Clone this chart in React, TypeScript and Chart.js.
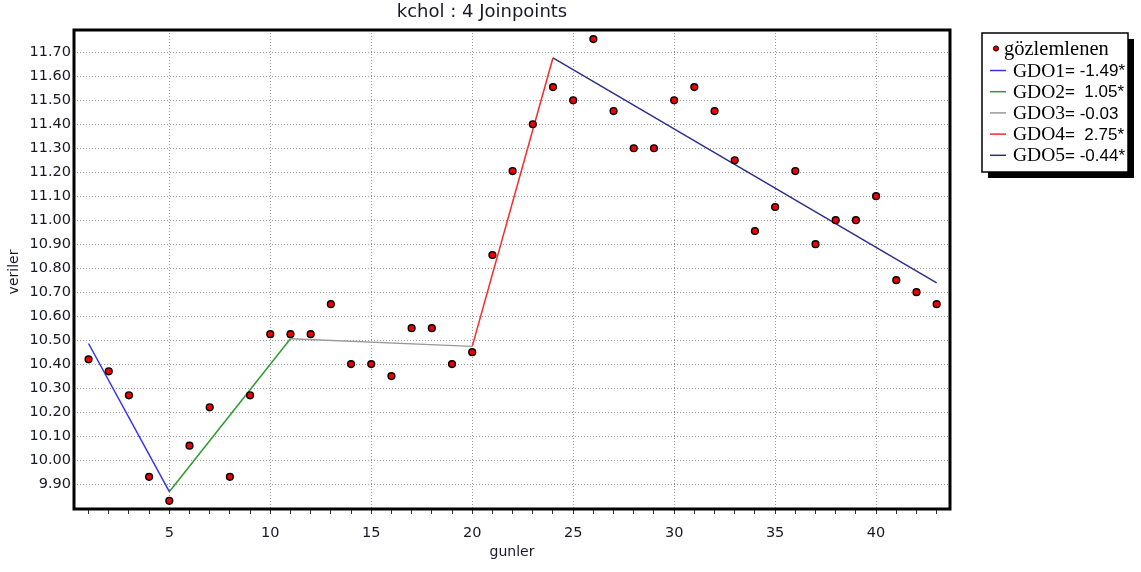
import React, { useEffect, useRef } from 'react';
import { Chart, registerables } from 'chart.js';

Chart.register(...registerables);

// Observation days and measured values
const days = [
  1, 2, 3, 4, 5, 6, 7, 8, 9, 10,
  11, 12, 13, 14, 15, 16, 17, 18, 19, 20,
  21, 22, 23, 24, 25, 26, 27, 28, 29, 30,
  31, 32, 33, 34, 35, 36, 37, 38, 39, 40,
  41, 42, 43,
];
const observed = [
  10.42, 10.37, 10.27, 9.93, 9.83, 10.06, 10.22, 9.93, 10.27, 10.525,
  10.525, 10.525, 10.65, 10.4, 10.4, 10.35, 10.55, 10.55, 10.4, 10.45,
  10.855, 11.205, 11.4, 11.555, 11.5, 11.755, 11.455, 11.3, 11.3, 11.5,
  11.555, 11.455, 11.25, 10.955, 11.055, 11.205, 10.9, 11.0, 11.0, 11.1,
  10.75, 10.7, 10.65,
];

// Joinpoint model: segment boundaries and fitted values at them
const joinDays = [1, 5, 11, 20, 24, 43];
const joinFit = [10.486, 9.868, 10.506, 10.474, 11.677, 10.739];
const segmentNames = ['GDO1', 'GDO2', 'GDO3', 'GDO4', 'GDO5'];
const segmentApc = ['-1.49*', ' 1.05*', '-0.03', ' 2.75*', '-0.44*'];
const segmentColors = ['#3434f0', '#2f9a2f', '#9a9a9a', '#f52a2a', '#2e2e8e'];

const yTicks = [
  9.9, 10.0, 10.1, 10.2, 10.3, 10.4, 10.5, 10.6, 10.7, 10.8,
  10.9, 11.0, 11.1, 11.2, 11.3, 11.4, 11.5, 11.6, 11.7,
];
const xLabelStep = 5;

const titleText = 'kchol : 4 Joinpoints';
const xTitle = 'gunler';
const yTitle = 'veriler';
const observedLabel = 'gözlemlenen';

const SANS = '"DejaVu Sans", sans-serif';
const TEXT = '#181828';

const decorations = {
  id: 'decorations',
  afterDraw(chart: any) {
    const { ctx, chartArea } = chart;
    const { left, top, right, bottom } = chartArea;
    ctx.save();

    // heavy frame around the plot
    ctx.strokeStyle = '#000';
    ctx.lineWidth = 3;
    ctx.strokeRect(left, top, right - left, bottom - top);

    // title
    ctx.fillStyle = TEXT;
    ctx.font = `18px ${SANS}`;
    ctx.textAlign = 'center';
    ctx.textBaseline = 'middle';
    ctx.fillText(titleText, 482, 12);

    // axis titles
    ctx.font = `14px ${SANS}`;
    ctx.fillText(xTitle, 512, 552);
    ctx.save();
    ctx.translate(14, 272);
    ctx.rotate(-Math.PI / 2);
    ctx.fillText(yTitle, 0, 0);
    ctx.restore();

    // legend box with drop shadow
    const lx = 982, ly = 33, lw = 146, lh = 139, sh = 6;
    ctx.fillStyle = '#000';
    ctx.fillRect(lx + sh, ly + sh, lw, lh);
    ctx.fillStyle = '#fff';
    ctx.fillRect(lx, ly, lw, lh);
    ctx.strokeStyle = '#000';
    ctx.lineWidth = 1.5;
    ctx.strokeRect(lx, ly, lw, lh);

    ctx.textAlign = 'left';
    ctx.textBaseline = 'middle';

    // observed marker entry
    const r0 = 48.5;
    ctx.beginPath();
    ctx.arc(996, r0, 2.6, 0, Math.PI * 2);
    ctx.fillStyle = '#e00000';
    ctx.fill();
    ctx.lineWidth = 1;
    ctx.strokeStyle = '#000';
    ctx.stroke();
    ctx.fillStyle = '#000';
    ctx.font = '20.5px "Liberation Serif", serif';
    ctx.fillText(observedLabel, 1004, r0 + 1);

    // segment entries
    segmentNames.forEach((name, i) => {
      const y = 70.5 + i * 21.2;
      ctx.strokeStyle = segmentColors[i];
      ctx.lineWidth = 1.5;
      ctx.beginPath();
      ctx.moveTo(990, y);
      ctx.lineTo(1006, y);
      ctx.stroke();

      ctx.fillStyle = '#000';
      ctx.font = '19.5px "Liberation Serif", serif';
      ctx.fillText(name, 1013, y + 1);
      const w = ctx.measureText(name).width;
      ctx.font = '17px "Liberation Sans", sans-serif';
      ctx.fillText('= ' + segmentApc[i], 1013 + w, y + 1);
    });

    ctx.restore();
  },
};

export default function App() {
  const canvasRef = useRef<HTMLCanvasElement | null>(null);

  useEffect(() => {
    const canvas = canvasRef.current;
    if (!canvas) return;

    const segmentSets = segmentNames.map((name, i) => ({
      label: name,
      data: [
        { x: joinDays[i], y: joinFit[i] },
        { x: joinDays[i + 1], y: joinFit[i + 1] },
      ],
      showLine: true,
      borderColor: segmentColors[i],
      borderWidth: 1.5,
      pointRadius: 0,
      fill: false,
      order: 2,
    }));

    const chart = new Chart(canvas, {
      type: 'scatter',
      data: {
        datasets: [
          {
            label: observedLabel,
            data: days.map((d, i) => ({ x: d, y: observed[i] })),
            pointRadius: 3.4,
            pointBorderWidth: 1.4,
            pointBackgroundColor: '#f00000',
            pointBorderColor: '#000',
            showLine: false,
            order: 1,
          },
          ...segmentSets,
        ],
      },
      options: {
        responsive: false,
        animation: false,
        layout: { padding: { left: 0, right: 191, top: 30, bottom: 0 } },
        plugins: {
          legend: { display: false },
          title: { display: false },
          tooltip: { enabled: false },
        },
        scales: {
          x: {
            type: 'linear',
            min: 0.28,
            max: 43.66,
            afterBuildTicks: (scale: any) => {
              scale.ticks = days.map((d) => ({ value: d }));
            },
            afterFit: (scale: any) => {
              scale.height = 63;
            },
            ticks: {
              autoSkip: false,
              maxRotation: 0,
              padding: 11,
              color: TEXT,
              font: { family: SANS, size: 14.5 },
              callback: (v: any) => (Number(v) % xLabelStep === 0 ? String(v) : ''),
            },
            grid: {
              color: (c: any) =>
                c.tick && c.tick.value % xLabelStep === 0 ? '#9a9a9a' : 'rgba(0,0,0,0)',
              lineWidth: 1,
              drawTicks: true,
              tickLength: 5,
              tickColor: '#333',
              tickWidth: 1,
            },
            border: { display: false, dash: [1, 2] },
          },
          y: {
            type: 'linear',
            min: 9.796,
            max: 11.793,
            afterBuildTicks: (scale: any) => {
              scale.ticks = yTicks.map((v) => ({ value: v }));
            },
            afterFit: (scale: any) => {
              scale.width = 74;
            },
            ticks: {
              autoSkip: false,
              padding: 3,
              color: TEXT,
              font: { family: SANS, size: 14.5 },
              callback: (v: any) => Number(v).toFixed(2),
            },
            grid: {
              color: '#9a9a9a',
              lineWidth: 1,
              drawTicks: false,
            },
            border: { display: false, dash: [1, 2] },
          },
        },
      },
      plugins: [decorations],
    } as any);

    return () => chart.destroy();
  }, []);

  return (
    <div style={{ position: 'absolute', left: 0, top: 0, width: 1141, height: 572, background: '#fff' }}>
      <canvas ref={canvasRef} width={1141} height={572} />
    </div>
  );
}
